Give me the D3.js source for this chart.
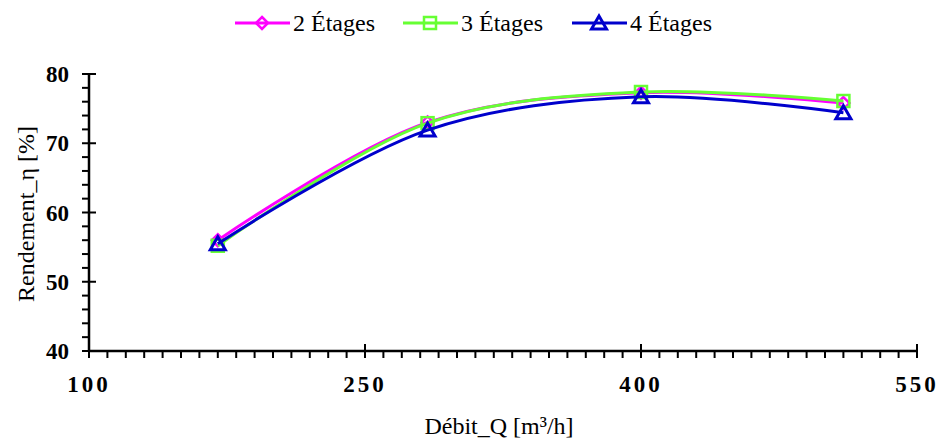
<!DOCTYPE html>
<html>
<head>
<meta charset="utf-8">
<script src="https://cdn.jsdelivr.net/npm/d3@7"></script>
</head>
<body style="margin:0">
<script>
// Data
const debit = [170, 284, 400, 510];
const etages2 = [56.0, 73.0, 77.3, 75.8];
const etages3 = [55.2, 72.9, 77.4, 76.1];
const etages4 = [55.5, 71.9, 76.7, 74.4];
const xTicks = [100, 250, 400, 550];
const yTicks = [40, 50, 60, 70, 80];

const series = [
  { name: '2 Étages', values: etages2, color: '#ff00ff', marker: 'diamond' },
  { name: '3 Étages', values: etages3, color: '#66ff33', marker: 'square' },
  { name: '4 Étages', values: etages4, color: '#0000cc', marker: 'triangle' }
];

const FONT = '"Liberation Serif"';
const width = 940, height = 442;
const svg = d3.select('body').append('svg')
  .attr('width', width).attr('height', height)
  .style('font-family', FONT);

const x = d3.scaleLinear().domain([100, 550]).range([89, 917]);
const y = d3.scaleLinear().domain([40, 80]).range([351, 74]);

// Axes: minor ticks outside, major ticks crossing the axis line
const axisG = svg.append('g').attr('stroke', '#000');

axisG.append('line')
  .attr('x1', x(100)).attr('x2', x(550)).attr('y1', y(40)).attr('y2', y(40))
  .attr('stroke-width', 2.5);
axisG.append('line')
  .attr('x1', x(100)).attr('x2', x(100)).attr('y1', y(40)).attr('y2', y(80))
  .attr('stroke-width', 2.5);

d3.range(100, 551, 10).forEach(v => {
  const major = xTicks.includes(v);
  axisG.append('line')
    .attr('x1', x(v)).attr('x2', x(v))
    .attr('y1', major ? y(40) - 7 : y(40)).attr('y2', y(40) + 7)
    .attr('stroke-width', 2);
});
d3.range(40, 80.1, 2).forEach(v => {
  const major = yTicks.includes(v);
  axisG.append('line')
    .attr('y1', y(v)).attr('y2', y(v))
    .attr('x1', x(100) - 7).attr('x2', major ? x(100) + 7 : x(100))
    .attr('stroke-width', 2);
});

svg.append('g').selectAll('text').data(xTicks).join('text')
  .attr('x', d => x(d)).attr('y', 392)
  .attr('text-anchor', 'middle')
  .style('font-family', FONT)
  .style('font-size', '23px').style('font-weight', 'bold')
  .style('letter-spacing', '3px')
  .text(d => d);

svg.append('g').selectAll('text').data(yTicks).join('text')
  .attr('x', 69).attr('y', d => y(d) + 8)
  .attr('text-anchor', 'end')
  .style('font-family', FONT)
  .style('font-size', '23px').style('font-weight', 'bold')
  .text(d => d);

svg.append('text')
  .attr('x', 499).attr('y', 434)
  .attr('text-anchor', 'middle')
  .style('font-family', FONT)
  .style('font-size', '24px')
  .text('Débit_Q [m³/h]');

svg.append('text')
  .attr('transform', 'translate(34,214) rotate(-90)')
  .attr('text-anchor', 'middle')
  .style('font-family', FONT)
  .style('font-size', '24px')
  .text('Rendement_η [%]');

// Markers
function drawMarker(g, type, cx, cy, color) {
  if (type === 'diamond') {
    g.append('path')
      .attr('d', `M${cx},${cy - 6}L${cx + 6},${cy}L${cx},${cy + 6}L${cx - 6},${cy}Z`)
      .attr('fill', 'none').attr('stroke', color).attr('stroke-width', 2.5);
  } else if (type === 'square') {
    g.append('rect')
      .attr('x', cx - 6).attr('y', cy - 6).attr('width', 12).attr('height', 12)
      .attr('fill', 'none').attr('stroke', color).attr('stroke-width', 2.5);
  } else {
    g.append('path')
      .attr('d', `M${cx},${cy - 7}L${cx + 7.5},${cy + 6}L${cx - 7.5},${cy + 6}Z`)
      .attr('fill', 'none').attr('stroke', color).attr('stroke-width', 3);
  }
}

const line = d3.line()
  .x(d => x(d[0])).y(d => y(d[1]))
  .curve(d3.curveCatmullRom.alpha(0.5));

series.forEach(s => {
  const pts = debit.map((q, i) => [q, s.values[i]]);
  const g = svg.append('g');
  g.append('path')
    .attr('d', line(pts))
    .attr('fill', 'none').attr('stroke', s.color).attr('stroke-width', 3);
  pts.forEach(p => drawMarker(g, s.marker, x(p[0]), y(p[1]), s.color));
});

// Legend
const legendX = [235, 403, 572];
series.forEach((s, i) => {
  const g = svg.append('g');
  const lx = legendX[i];
  g.append('line')
    .attr('x1', lx).attr('x2', lx + 55).attr('y1', 23).attr('y2', 23)
    .attr('stroke', s.color).attr('stroke-width', 3);
  drawMarker(g, s.marker, lx + 27, 23, s.color);
  g.append('text')
    .attr('x', lx + 58).attr('y', 31)
    .style('font-family', FONT)
    .style('font-size', '24px')
    .text(s.name);
});
</script>
</body>
</html>
